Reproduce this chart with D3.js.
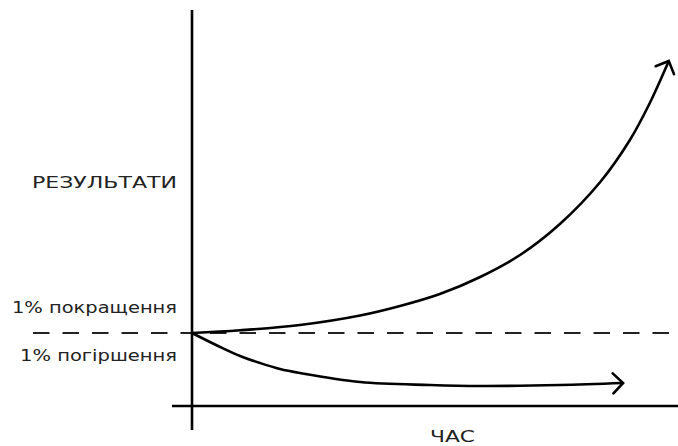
<!DOCTYPE html>
<html>
<head>
<meta charset="utf-8">
<script src="https://cdn.jsdelivr.net/npm/d3@7"></script>
<style>
  html, body { margin: 0; padding: 0; background: #fff; }
  text { font-family: "DejaVu Sans", "Open Sans", sans-serif; fill: #222; }
</style>
</head>
<body>
<svg id="chart" width="678" height="446"></svg>
<script>
// ---- data ----
const timeUp   = [0, 9.9, 22.2, 34.6, 42.8, 51.0, 59.3, 67.5, 75.7, 84.0, 90.1, 94.2, 98.1];
const valuesUp = [0, 2.7, 8, 17.5, 27, 39, 56, 78, 109, 151, 193, 230, 272];
const timeDown   = [0, 5.8, 9.9, 14.0, 18.1, 22.2, 34.6, 49.0, 59.3, 75.7, 88.7];
const valuesDown = [0, -14, -23, -30, -36, -40, -49, -52, -53, -52, -50];
const baseline = 0;
const yLabel = "РЕЗУЛЬТАТИ";
const xLabel = "ЧАС";
const upLabel = "1% покращення";
const downLabel = "1% погіршення";

// ---- layout ----
const svg = d3.select("#chart");
const x = d3.scaleLinear().domain([0, 100]).range([192, 678]);
const y = d3.scaleLinear().domain([-73, 323]).range([406, 10]);

const defs = svg.append("defs");
defs.append("marker")
  .attr("id", "arrow")
  .attr("markerUnits", "userSpaceOnUse")
  .attr("viewBox", "-12 -12 14 24")
  .attr("refX", 0).attr("refY", 0)
  .attr("markerWidth", 14).attr("markerHeight", 24)
  .attr("orient", "auto")
  .append("path")
  .attr("d", "M-10,-10 L0,0 L-10,10")
  .attr("fill", "none")
  .attr("stroke", "#000")
  .attr("stroke-width", 2.6)
  .attr("stroke-linecap", "round")
  .attr("stroke-linejoin", "miter");

// dashed baseline
svg.append("line")
  .attr("x1", 33).attr("x2", 678)
  .attr("y1", y(baseline)).attr("y2", y(baseline))
  .attr("stroke", "#222").attr("stroke-width", 2)
  .attr("stroke-dasharray", "16.5,13");

// axes
svg.append("line")
  .attr("x1", x(0)).attr("x2", x(0))
  .attr("y1", y.range()[1]).attr("y2", 430)
  .attr("stroke", "#000").attr("stroke-width", 2.6);
svg.append("line")
  .attr("x1", 172).attr("x2", 678)
  .attr("y1", y.range()[0]).attr("y2", y.range()[0])
  .attr("stroke", "#000").attr("stroke-width", 2.6);

// curves
const line = d3.line().x(d => x(d[0])).y(d => y(d[1])).curve(d3.curveCatmullRom.alpha(0.5));
svg.append("path")
  .attr("d", line(timeUp.map((t, i) => [t, valuesUp[i]])))
  .attr("fill", "none").attr("stroke", "#000").attr("stroke-width", 2.6)
  .attr("marker-end", "url(#arrow)");
svg.append("path")
  .attr("d", line(timeDown.map((t, i) => [t, valuesDown[i]])))
  .attr("fill", "none").attr("stroke", "#000").attr("stroke-width", 2.6)
  .attr("marker-end", "url(#arrow)");

// labels
function label(txt, xx, yy, w, anchor, size) {
  svg.append("text").attr("x", xx).attr("y", yy)
    .attr("text-anchor", anchor).attr("font-size", size)
    .attr("textLength", w).attr("lengthAdjust", "spacingAndGlyphs")
    .text(txt);
}
label(yLabel, 177, 188, 145, "end", 15.5);
label(upLabel, 177, 313, 165, "end", 15.5);
label(downLabel, 177, 361, 157, "end", 15.5);
label(xLabel, 452.5, 442, 45, "middle", 16);
</script>
</body>
</html>
